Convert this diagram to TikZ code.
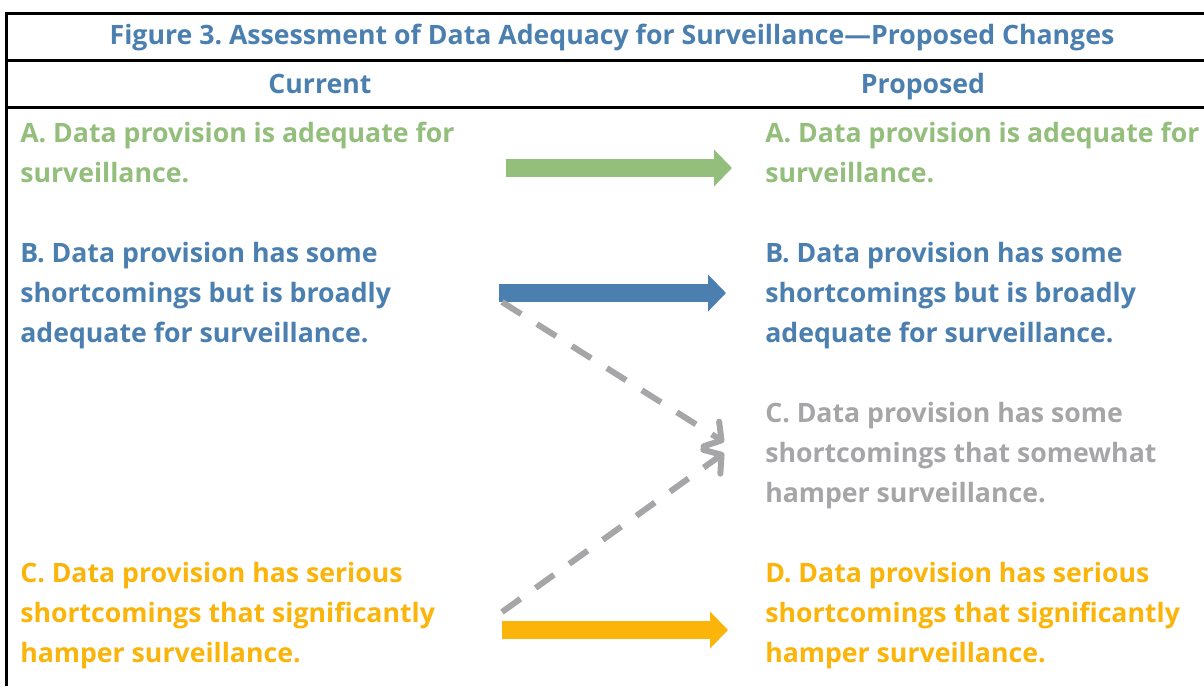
\documentclass[tikz,border=0pt]{standalone}
\usepackage{fontspec}
\setmainfont{Open Sans}
\frenchspacing
\usetikzlibrary{arrows.meta}
\definecolor{cgreen}{RGB}{147,190,124}
\definecolor{cblue}{RGB}{74,127,175}
\definecolor{cgray}{RGB}{166,166,168}
\definecolor{cyellow}{RGB}{250,180,10}
\tikzset{
	txt/.style={anchor=base west, align=left, inner sep=0pt, font=\fontsize{20}{30}\selectfont\bfseries},
	hdr/.style={anchor=base, inner sep=0pt, text=cblue, font=\fontsize{20}{30}\selectfont\bfseries},
	fat/.style={line width=13pt, -{Triangle[length=13.5pt,width=27pt]}},
	gline/.style={cgray, line width=4.5pt, dash pattern=on 17pt off 14pt, -{Straight Barb[length=9pt,width=22pt,round]}},
	frame/.style={line width=2.25pt}
}
\begin{document}
\begin{tikzpicture}[x=0.75pt,y=-0.75pt]
	\useasboundingbox (0,0) rectangle (1204,686);
	% frame
	\draw[frame] (6,13) -- (1204,13);
	\draw[frame] (6,60) -- (1204,60);
	\draw[frame] (6,107) -- (1204,107);
	\draw[frame] (6,12) -- (6,686);
	% headings
	\node[hdr] (title) at (612,44) {Figure 3. Assessment of Data Adequacy for Surveillance---Proposed Changes};
	\node[hdr] (cur) at (320,93) {Current};
	\node[hdr] (prop) at (923,93) {Proposed};
	% current (anchored at the last line)
	\node[txt, text=cgreen] (cA) at (20,182) {A. Data provision is adequate for\\surveillance.};
	\node[txt, text=cblue] (cB) at (20,342) {B. Data provision has some\\shortcomings but is broadly\\adequate for surveillance.};
	\node[txt, text=cyellow] (cC) at (20,662) {C. Data provision has serious\\shortcomings that significantly\\hamper surveillance.};
	% proposed
	\node[txt, text=cgreen] (pA) at (765,182) {A. Data provision is adequate for\\surveillance.};
	\node[txt, text=cblue] (pB) at (765,342) {B. Data provision has some\\shortcomings but is broadly\\adequate for surveillance.};
	\node[txt, text=cgray] (pC) at (765,502) {C. Data provision has some\\shortcomings that somewhat\\hamper surveillance.};
	\node[txt, text=cyellow] (pD) at (765,662) {D. Data provision has serious\\shortcomings that significantly\\hamper surveillance.};
	% arrow ends
	\coordinate (a1) at (506,168);
	\coordinate (a2) at (732,168);
	\coordinate (b1) at (499,293);
	\coordinate (b2) at (726,293);
	\coordinate (d1) at (502,630);
	\coordinate (d2) at (728,630);
	\coordinate (g1) at (502,302);
	\coordinate (g2) at (724,442);
	\coordinate (h1) at (502,612);
	\coordinate (h2) at (724,453);
	% arrows
	\draw[fat, cgreen] (a1) -- (a2);
	\draw[fat, cblue] (b1) -- (b2);
	\draw[fat, cyellow] (d1) -- (d2);
	\draw[gline] (g1) -- (g2);
	\draw[gline] (h1) -- (h2);
\end{tikzpicture}
\end{document}
